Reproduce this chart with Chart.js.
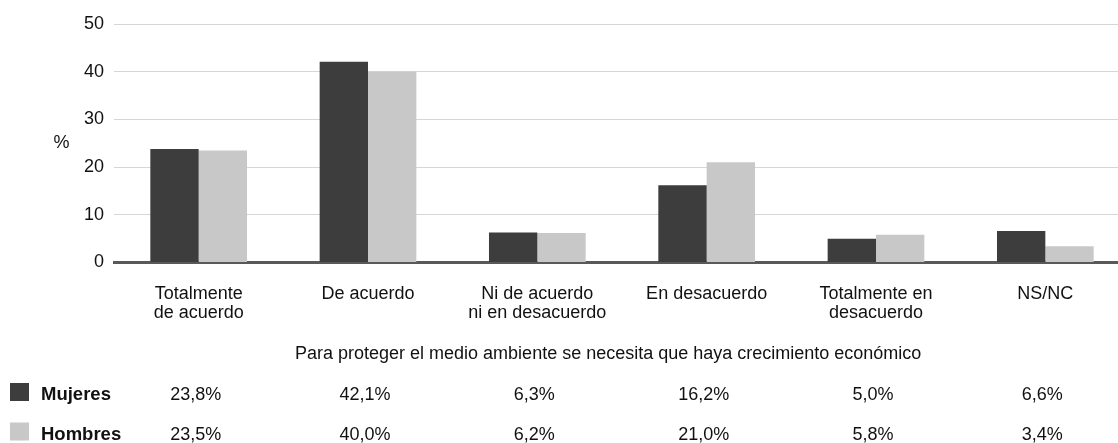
<!DOCTYPE html>
<html>
<head>
<meta charset="utf-8">
<script src="https://cdn.jsdelivr.net/npm/chart.js@4"></script>
<style>
  html, body { margin: 0; padding: 0; background: #fff; overflow: hidden; }
  #wrap { width: 1130px; height: 443px; }
</style>
</head>
<body>
<div id="wrap"><canvas id="myChart" width="1130" height="443"></canvas></div>
<script>
var categories = [
  ["Totalmente", "de acuerdo"],
  "De acuerdo",
  ["Ni de acuerdo", "ni en desacuerdo"],
  "En desacuerdo",
  ["Totalmente en", "desacuerdo"],
  "NS/NC"
];
var mujeres = [23.8, 42.1, 6.3, 16.2, 5.0, 6.6];
var hombres = [23.5, 40.0, 6.2, 21.0, 5.8, 3.4];
var seriesNames = ["Mujeres", "Hombres"];
var yTicks = [0, 10, 20, 30, 40, 50];
var subtitle = "Para proteger el medio ambiente se necesita que haya crecimiento económico";
var yTitle = "%";

var darkColor = "#3d3d3d";
var lightColor = "#c8c8c8";
var textColor = "#111";
var fontFamily = "'Liberation Sans', Arial, sans-serif";

function fmt(v){
  return v.toFixed(1).replace('.', ',') + '%';
}

// extra drawing: "%" label, subtitle and the data table with legend squares
var extras = {
  id: 'extras',
  afterDraw: function(chart){
    var ctx = chart.ctx;
    var xs = chart.scales.x;
    ctx.save();
    ctx.fillStyle = textColor;
    ctx.font = "18px " + fontFamily;
    ctx.textAlign = 'center';
    ctx.textBaseline = 'middle';
    ctx.fillText(yTitle, 61.5, (chart.chartArea.top + chart.chartArea.bottom) / 2);

    ctx.textBaseline = 'alphabetic';
    ctx.textAlign = 'left';
    ctx.fillText(subtitle, 295, 359);

    var rows = [mujeres, hombres];
    var colors = [darkColor, lightColor];
    var baselines = [400, 439.5];
    for (var r = 0; r < rows.length; r++) {
      ctx.fillStyle = colors[r];
      ctx.fillRect(10, baselines[r] - 17, 19, 18);
      ctx.fillStyle = textColor;
      ctx.textAlign = 'left';
      ctx.font = "bold 18.5px " + fontFamily;
      ctx.fillText(seriesNames[r], 41, baselines[r]);
      ctx.textAlign = 'center';
      ctx.font = "18px " + fontFamily;
      for (var i = 0; i < rows[r].length; i++) {
        ctx.fillText(fmt(rows[r][i]), xs.getPixelForValue(i) - 3, baselines[r]);
      }
    }
    ctx.restore();
  }
};

var ctx = document.getElementById('myChart').getContext('2d');
var chart = new Chart(ctx, {
  type: 'bar',
  data: {
    labels: categories,
    datasets: [{
      label: seriesNames[0],
      data: mujeres,
      backgroundColor: darkColor,
      barPercentage: 1,
      categoryPercentage: 0.571
    }, {
      label: seriesNames[1],
      data: hombres,
      backgroundColor: lightColor,
      barPercentage: 1,
      categoryPercentage: 0.571
    }]
  },
  options: {
    responsive: false,
    devicePixelRatio: 1,
    animation: false,
    layout: { padding: { top: 24, right: 0, bottom: 0, left: 0 } },
    plugins: {
      legend: { display: false },
      tooltip: { enabled: false }
    },
    scales: {
      x: {
        z: 1,
        grid: { display: false },
        border: { display: true, color: '#595959', width: 3 },
        ticks: {
          autoSkip: false,
          maxRotation: 0,
          padding: 14,
          color: textColor,
          font: { family: fontFamily, size: 18, lineHeight: 1.05 }
        },
        afterFit: function(scale){ scale.height = 180.5; }
      },
      y: {
        min: 0,
        max: 50,
        afterBuildTicks: function(scale){
          scale.ticks = yTicks.map(function(v){ return { value: v }; });
        },
        grid: { color: '#d6d6d6', lineWidth: 1, drawTicks: false },
        border: { display: false },
        ticks: {
          padding: 10,
          color: textColor,
          font: { family: fontFamily, size: 18 }
        },
        afterFit: function(scale){ scale.width = 114; }
      }
    }
  },
  plugins: [extras]
});
</script>
</body>
</html>
